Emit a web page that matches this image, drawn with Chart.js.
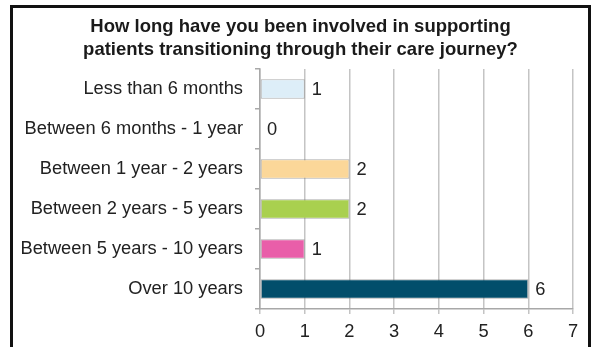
<!DOCTYPE html>
<html>
<head>
<meta charset="utf-8">
<script src="https://cdn.jsdelivr.net/npm/chart.js@4/dist/chart.umd.min.js"></script>
<style>
  html, body { margin: 0; padding: 0; background: #fff; overflow: hidden; }
  #frame {
    position: absolute; left: 10px; top: 5px;
    width: 575px; height: 400px;
    border: 3px solid #111;
  }
  #wrap { position: absolute; left: 0; top: 0; width: 596px; height: 347px; }
</style>
</head>
<body>
<div id="frame"></div>
<div id="wrap"><canvas id="chart" width="596" height="347"></canvas></div>
<script>
/* ── DATA ───────────────────────────────────────── */
const titleLines = [
  "How long have you been involved in supporting",
  "patients transitioning through their care journey?",
];
const categories = [
  "Less than 6 months",
  "Between 6 months - 1 year",
  "Between 1 year - 2 years",
  "Between 2 years - 5 years",
  "Between 5 years - 10 years",
  "Over 10 years",
];
const counts = [1, 0, 2, 2, 1, 6];
const barColors = ["#ddeef8", "#ddeef8", "#fbd799", "#a9d04f", "#e95ea9", "#024e6b"];

const FONT = "'Liberation Sans', Arial, sans-serif";

/* ── TITLE (two centred lines over the frame) ───── */
const titleText = {
  id: "titleText",
  afterDraw(chart) {
    const ctx = chart.ctx;
    ctx.save();
    ctx.font = "bold 18.5px " + FONT;
    ctx.fillStyle = "#1a1a1a";
    ctx.textAlign = "center";
    ctx.textBaseline = "middle";
    titleLines.forEach((line, i) => {
      ctx.fillText(line, 300.5, 27 + i * 22.5);
    });
    ctx.restore();
  },
};

/* ── VALUE LABELS ───────────────────────────────── */
const valueLabels = {
  id: "valueLabels",
  afterDatasetsDraw(chart) {
    const ctx = chart.ctx;
    const meta = chart.getDatasetMeta(0);
    ctx.save();
    ctx.font = "18.3px " + FONT;
    ctx.fillStyle = "#222";
    ctx.textAlign = "left";
    ctx.textBaseline = "middle";
    meta.data.forEach((bar, i) => {
      ctx.fillText(String(counts[i]), bar.x + 7, bar.y + 1);
    });
    ctx.restore();
  },
};

/* ── CHART ──────────────────────────────────────── */
new Chart(document.getElementById("chart"), {
  type: "bar",
  data: {
    labels: categories,
    datasets: [
      {
        data: counts,
        backgroundColor: barColors,
        borderColor: "rgba(120,120,120,0.6)",
        borderWidth: 1,
        borderSkipped: false,
        barPercentage: 0.49,
        categoryPercentage: 1,
      },
    ],
  },
  options: {
    indexAxis: "y",
    responsive: false,
    animation: false,
    layout: { padding: { left: 0, right: 23, top: 69, bottom: 0 } },
    plugins: {
      legend: { display: false },
      tooltip: { enabled: false },
      title: { display: false },
    },
    scales: {
      x: {
        min: 0,
        max: 7,
        ticks: {
          stepSize: 1,
          color: "#222",
          padding: 7,
          font: { family: FONT, size: 18.3 },
        },
        grid: { color: "#c4c4c4", lineWidth: 1.5, tickLength: 5 },
        border: { color: "#a8a8a8", width: 1.5 },
        afterFit: (s) => { s.height = 38; },
      },
      y: {
        ticks: {
          color: "#222",
          padding: 12,
          font: { family: FONT, size: 18.3 },
        },
        grid: { drawOnChartArea: false, color: "#a8a8a8", tickLength: 5, lineWidth: 1.5 },
        border: { color: "#a8a8a8", width: 1.5 },
        afterFit: (s) => { s.width = 260; },
      },
    },
  },
  plugins: [valueLabels, titleText],
});
</script>
</body>
</html>
